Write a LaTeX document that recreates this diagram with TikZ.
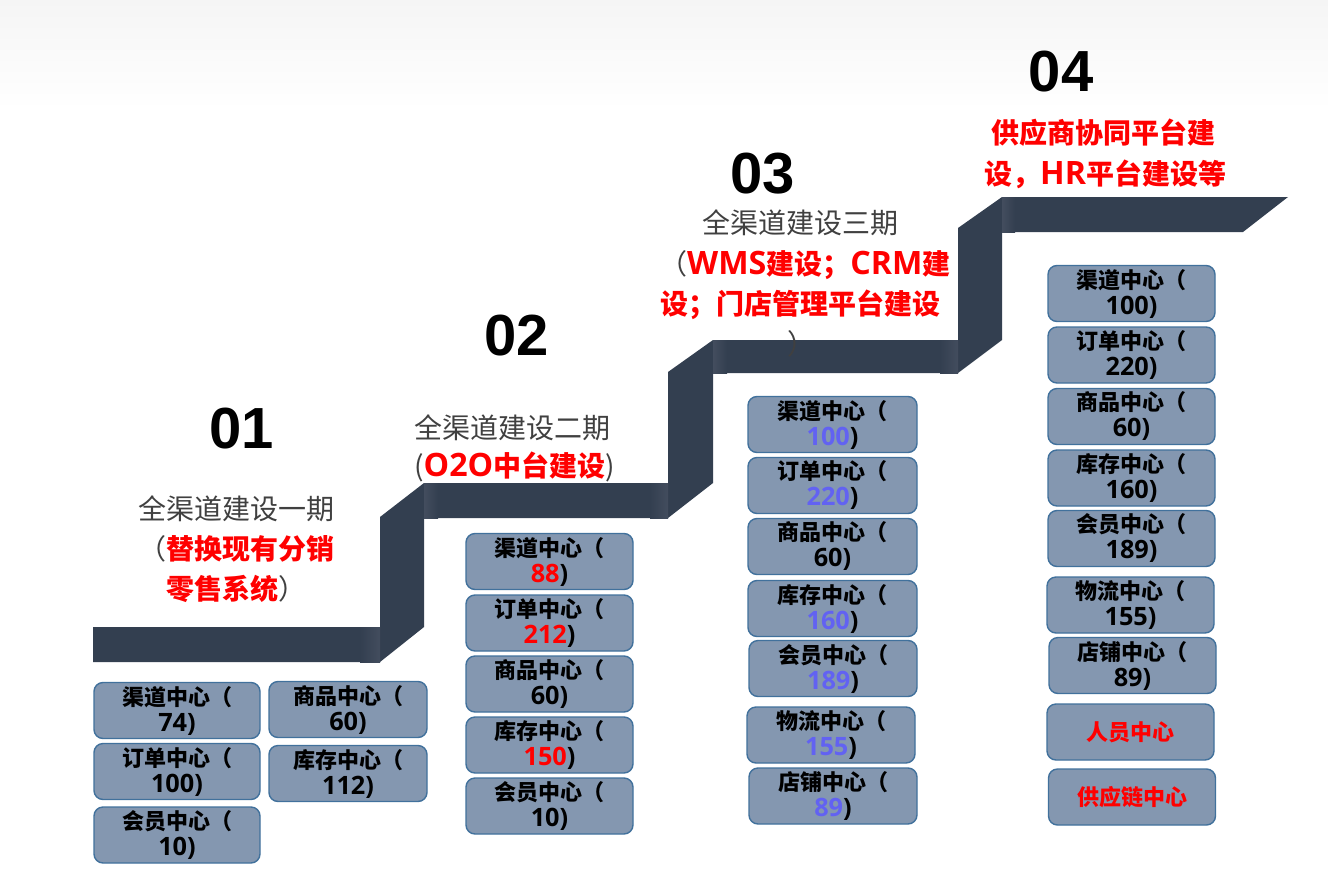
\documentclass[tikz,border=0pt]{standalone}
\usepackage{fontspec}
\setmainfont{Noto Sans CJK SC}
\newfontfamily\lat{Open Sans}[Scale=1.15]
\newfontfamily\numfont{Liberation Sans}
\definecolor{stair}{HTML}{333F50}
\definecolor{stairlight}{HTML}{434D5E}
\definecolor{boxfill}{HTML}{8497B0}
\definecolor{boxline}{HTML}{41719C}
\definecolor{redtxt}{HTML}{FF0000}
\definecolor{bluenum}{HTML}{6262F2}
\definecolor{graytxt}{HTML}{404040}
\definecolor{bgtop}{HTML}{F5F5F5}
\newcommand{\rn}[1]{{\color{redtxt}#1}}
\newcommand{\bn}[1]{{\color{bluenum}#1}}
\tikzset{
  cbox/.style={draw=boxline, line width=1.4pt, fill=boxfill, rounded corners=9pt,
    minimum width=167pt, minimum height=56pt, inner sep=0pt, align=center,
    font=\bfseries\fontsize{22}{26}\selectfont, text=black},
  bignum/.style={inner sep=0pt, font=\numfont\bfseries\fontsize{58}{60}\selectfont, text=black},
  gline/.style={anchor=base west, inner sep=0pt, text=graytxt, font=\fontsize{28}{32}\selectfont},
  rline/.style={anchor=base west, inner sep=0pt, text=redtxt, font=\bfseries\fontsize{28}{32}\selectfont}
}
\begin{document}
\begin{tikzpicture}[x=1pt,y=-1pt]
\useasboundingbox (0,0) rectangle (1328,889);
\fill[white] (0,0) rectangle (1328,889);
\shade[top color=bgtop, bottom color=white] (0,0) rectangle (1328,110);
% staircase
\fill[stair] (93,627) -- (380,627) -- (380,517) -- (424,483) -- (668,483) -- (668,372) -- (713,340)
  -- (958,340) -- (958,228) -- (1002,197) -- (1288,197) -- (1243,232) -- (1002,232) -- (1002,340)
  -- (958,373) -- (713,373) -- (713,483) -- (668,518) -- (424,518) -- (424,627) -- (380,662)
  -- (93,662) -- cycle;
\shade[left color=stair, right color=stairlight] (360,627) rectangle (380,662);
\shade[left color=stairlight, right color=stair] (424,483) rectangle (438,518);
\shade[left color=stair, right color=stairlight] (650,483) rectangle (668,518);
\shade[left color=stairlight, right color=stair] (713,340) rectangle (727,373);
\shade[left color=stair, right color=stairlight] (940,340) rectangle (958,373);
\shade[left color=stairlight, right color=stair] (1002,197) rectangle (1015,232);
% stage titles
\node[bignum] (n1) at (242,429) {01};
\node[bignum] (n2) at (517,336) {02};
\node[bignum] (n3) at (763,174) {03};
\node[bignum] (n4) at (1061,72) {04};
% stage 1 text
\node[gline] (s1a) at (138,519) {全渠道建设一期};
\node[gline] (s1b) at (138,559) {（\rn{\bfseries 替换现有分销}};
\node[rline] (s1c) at (166,599) {零售系统{\mdseries\color{graytxt}）}};
% stage 2 text
\node[gline] (s2a) at (414,438) {全渠道建设二期};
\node[gline] (s2b) at (414,476) {(\rn{\bfseries{\lat O2O}中台建设})};
% stage 3 text
\node[gline] (s3a) at (702,233) {全渠道建设三期};
\node[gline] (s3b) at (659,274) {（\rn{\bfseries{\lat WMS}建设；{\lat CRM}建}};
\node[rline] (s3c) at (660,314) {设；门店管理平台建设};
\node[gline] (s3d) at (787,354) {）};
% stage 4 text
\node[rline] (s4a) at (991,143) {供应商协同平台建};
\node[rline] (s4b) at (984,184) {设，{\lat HR}平台建设等};
% group 1 boxes
\node[cbox, minimum width=166pt] (g1a) at (177,710.5) {渠道中心（\\{\lat 74)}};
\node[cbox, minimum width=166pt] (g1b) at (177,771.5) {订单中心（\\{\lat 100)}};
\node[cbox, minimum width=166pt] (g1c) at (177,835) {会员中心（\\{\lat 10)}};
\node[cbox, minimum width=158pt] (g1d) at (348,709.5) {商品中心（\\{\lat 60)}};
\node[cbox, minimum width=158pt] (g1e) at (348,773.5) {库存中心（\\{\lat 112)}};
% group 2 boxes
\node[cbox] (g2a) at (549.5,561.5) {渠道中心（\\{\lat \rn{88})}};
\node[cbox] (g2b) at (549.5,623) {订单中心（\\{\lat \rn{212})}};
\node[cbox] (g2c) at (549.5,684) {商品中心（\\{\lat 60)}};
\node[cbox] (g2d) at (549.5,745) {库存中心（\\{\lat \rn{150})}};
\node[cbox] (g2e) at (549.5,806) {会员中心（\\{\lat 10)}};
% group 3 boxes
\node[cbox, minimum width=169pt] (g3a) at (832.5,424.5) {渠道中心（\\{\lat \bn{100})}};
\node[cbox, minimum width=169pt] (g3b) at (832.5,485.5) {订单中心（\\{\lat \bn{220})}};
\node[cbox, minimum width=169pt] (g3c) at (832.5,546.5) {商品中心（\\{\lat 60)}};
\node[cbox, minimum width=169pt] (g3d) at (832.5,608.5) {库存中心（\\{\lat \bn{160})}};
\node[cbox, minimum width=168pt] (g3e) at (833,668.5) {会员中心（\\{\lat \bn{189})}};
\node[cbox, minimum width=168pt] (g3f) at (831,735) {物流中心（\\{\lat \bn{155})}};
\node[cbox, minimum width=168pt] (g3g) at (833,796) {店铺中心（\\{\lat \bn{89})}};
% group 4 boxes
\node[cbox] (g4a) at (1131.5,293.5) {渠道中心（\\{\lat 100)}};
\node[cbox] (g4b) at (1131.5,355) {订单中心（\\{\lat 220)}};
\node[cbox] (g4c) at (1131.5,416.5) {商品中心（\\{\lat 60)}};
\node[cbox] (g4d) at (1131.5,478) {库存中心（\\{\lat 160)}};
\node[cbox] (g4e) at (1131.5,538.5) {会员中心（\\{\lat 189)}};
\node[cbox] (g4f) at (1130.5,605) {物流中心（\\{\lat 155)}};
\node[cbox] (g4g) at (1132.5,665.5) {店铺中心（\\{\lat 89)}};
\node[cbox, text=redtxt] (g4h) at (1130.5,732) {人员中心};
\node[cbox, text=redtxt] (g4i) at (1132,797) {供应链中心};
\end{tikzpicture}
\end{document}
